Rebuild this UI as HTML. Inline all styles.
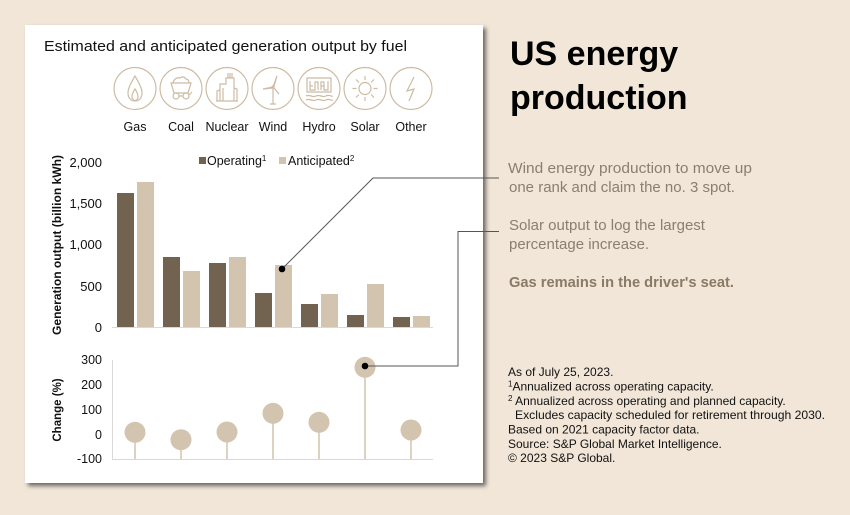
<!DOCTYPE html>
<html><head><meta charset="utf-8"><style>
html,body{margin:0;padding:0;background:#f1e6d8;}
svg{display:block;}
text{font-family:"Liberation Sans",sans-serif;}
</style></head><body>
<svg width="850" height="515" viewBox="0 0 850 515" xmlns="http://www.w3.org/2000/svg">
<defs>
<filter id="sh" x="-10%" y="-10%" width="130%" height="130%">
<feDropShadow dx="3" dy="3" stdDeviation="2.2" flood-color="#000" flood-opacity="0.55"/>
</filter>
</defs>
<rect width="850" height="515" fill="#f1e6d8"/>
<rect x="25" y="25" width="458" height="458" fill="#fff" filter="url(#sh)"/>

<text x="44" y="51" font-size="14.5" fill="#111" textLength="363" lengthAdjust="spacingAndGlyphs">Estimated and anticipated generation output by fuel</text>

<!-- icons -->
<g fill="none" stroke="#cdbba4" stroke-width="1.2">
<circle cx="135" cy="88.5" r="21"/><circle cx="181" cy="88.5" r="21"/><circle cx="227" cy="88.5" r="21"/><circle cx="273" cy="88.5" r="21"/><circle cx="319" cy="88.5" r="21"/><circle cx="365" cy="88.5" r="21"/><circle cx="411" cy="88.5" r="21"/>
<!-- gas flame -->
<path d="M135 76 C131 83 128 88 128 93 C128 98 131 101 135 101 C139 101 142 98 142 93 C142 88 139 83 135 76 Z"/>
<path d="M135 89 C133 92 132 95 132 97 C132 99 133.5 100.5 135 100.5 C136.5 100.5 138 99 138 97 C138 95 137 92 135 89 Z"/>
<!-- coal cart -->
<path d="M171 83 L191 83 L188 93 L174 93 Z"/>
<path d="M173 83 C174 79 177 77 180 78 C182 76 185 77 186 79 C188 79 189 81 189 83"/>
<circle cx="176" cy="96" r="3"/><circle cx="186" cy="96" r="3"/>
<path d="M179 96 L183 96 M189 95 L192 92"/>
<!-- nuclear -->
<path d="M220 101 L220 84 L226 84 L226 78 L234 78 L234 101 M216 101 L238 101 M220 90 L217 91 L217 101 M234 88 L237 89 L237 101 M223 88 L223 101"/>
<path d="M228 73 L228 78 M230 73 L230 78 M232 73 L232 78"/>
<!-- wind -->
<path d="M273 87 L273 104 M270 104 L276 104"/>
<path d="M273 87 L277 76 L274 86 Z M273 87 L263 89 L272 88 Z M273 87 L279 94 L274 88 Z"/>
<circle cx="273" cy="87" r="1"/>
<!-- hydro -->
<path d="M307 78 L331 78 L331 92 L307 92 Z M310 81 L310 90 L315 90 L315 82 L318 82 L318 90 M321 90 L321 82 L324 82 L324 90 L328 90 L328 81 M310 86 L313 86 M321 86 L324 86"/>
<path d="M306 96 C310 94 312 98 316 96 C320 94 322 98 326 96 C329 94 331 97 333 96"/>
<path d="M306 100 C310 98 312 102 316 100 C320 98 322 102 326 100 C329 98 331 101 333 100"/>
<!-- solar -->
<circle cx="365" cy="88.5" r="6"/>
<path d="M365 76 L365 80 M365 97 L365 101 M352.5 88.5 L356.5 88.5 M373.5 88.5 L377.5 88.5 M356 79.5 L359 82.5 M371 94.5 L374 97.5 M374 79.5 L371 82.5 M359 94.5 L356 97.5"/>
<!-- other -->
<path d="M414 77 L407 91 L414 89 L409 101"/>
</g>
<g font-size="12.5" fill="#111" text-anchor="middle">
<text x="135" y="131">Gas</text><text x="181" y="131">Coal</text><text x="227" y="131">Nuclear</text><text x="273" y="131">Wind</text><text x="319" y="131">Hydro</text><text x="365" y="131">Solar</text><text x="411" y="131">Other</text>
</g>

<!-- bar chart -->
<g font-size="13" fill="#111" text-anchor="end">
<text x="102" y="167">2,000</text><text x="102" y="208">1,500</text><text x="102" y="249">1,000</text><text x="102" y="291">500</text><text x="102" y="332">0</text>
</g>
<text transform="translate(61,245) rotate(-90)" font-size="11.5" font-weight="bold" fill="#111" text-anchor="middle" textLength="180" lengthAdjust="spacingAndGlyphs">Generation output (billion kWh)</text>
<!-- legend -->
<rect x="199" y="157" width="7" height="7" fill="#726350"/>
<text x="207" y="165" font-size="12.5" fill="#111">Operating<tspan font-size="8" dy="-4">1</tspan></text>
<rect x="279" y="157" width="7" height="7" fill="#d3c4af"/>
<text x="288" y="165" font-size="12.5" fill="#111">Anticipated<tspan font-size="8" dy="-4">2</tspan></text>

<g fill="#726350">
<rect x="117" y="193" width="17" height="134"/>
<rect x="163" y="257" width="17" height="70"/>
<rect x="209" y="263" width="17" height="64"/>
<rect x="255" y="293" width="17" height="34"/>
<rect x="301" y="304" width="17" height="23"/>
<rect x="347" y="315" width="17" height="12"/>
<rect x="393" y="317" width="17" height="10"/>
</g>
<g fill="#d3c4af">
<rect x="137" y="182" width="17" height="145"/>
<rect x="183" y="271" width="17" height="56"/>
<rect x="229" y="257" width="17" height="70"/>
<rect x="275" y="265" width="17" height="62"/>
<rect x="321" y="294" width="17" height="33"/>
<rect x="367" y="284" width="17" height="43"/>
<rect x="413" y="316" width="17" height="11"/>
</g>
<line x1="112" y1="327.5" x2="433" y2="327.5" stroke="#d9d9d9" stroke-width="1"/>

<!-- lollipop chart -->
<g font-size="12.5" fill="#111" text-anchor="end">
<text x="102" y="364">300</text><text x="102" y="389">200</text><text x="102" y="414">100</text><text x="102" y="439">0</text><text x="102" y="463">-100</text>
</g>
<text transform="translate(61,410) rotate(-90)" font-size="11.5" font-weight="bold" fill="#111" text-anchor="middle">Change (%)</text>
<line x1="112.5" y1="360" x2="112.5" y2="459" stroke="#d9d9d9" stroke-width="1"/>
<line x1="112" y1="459.5" x2="433" y2="459.5" stroke="#d9d9d9" stroke-width="1"/>
<g stroke="#d3c4af" stroke-width="1.5">
<line x1="135" y1="432" x2="135" y2="459"/>
<line x1="181" y1="440" x2="181" y2="459"/>
<line x1="227" y1="432" x2="227" y2="459"/>
<line x1="273" y1="413" x2="273" y2="459"/>
<line x1="319" y1="422" x2="319" y2="459"/>
<line x1="365" y1="367" x2="365" y2="459"/>
<line x1="411" y1="430" x2="411" y2="459"/>
</g>
<g fill="#d3c4af">
<circle cx="135" cy="432.3" r="10.5"/>
<circle cx="181" cy="439.7" r="10.5"/>
<circle cx="227" cy="432" r="10.5"/>
<circle cx="273" cy="413.3" r="10.5"/>
<circle cx="319" cy="422.3" r="10.5"/>
<circle cx="365" cy="367.3" r="10.5"/>
<circle cx="411" cy="430" r="10.5"/>
</g>

<!-- callouts -->
<g fill="none" stroke="#555" stroke-width="1">
<polyline points="282,269 373,178 499,178"/>
<polyline points="365,366 458,366 458,231.5 499,231.5"/>
</g>
<circle cx="282" cy="269" r="3.3" fill="#000"/>
<circle cx="365" cy="366" r="3.3" fill="#000"/>

<!-- right side -->
<text x="510" y="65" font-size="34" font-weight="bold" fill="#000">US energy</text>
<text x="510" y="109" font-size="34" font-weight="bold" fill="#000">production</text>

<g font-size="15" fill="#8a7e70">
<text x="508" y="173" textLength="244" lengthAdjust="spacingAndGlyphs">Wind energy production to move up</text>
<text x="509" y="192">one rank and claim the no. 3 spot.</text>
<text x="509" y="230">Solar output to log the largest</text>
<text x="509" y="249">percentage increase.</text>
<text x="509" y="287" font-weight="bold" fill="#8a7a66" textLength="225" lengthAdjust="spacingAndGlyphs">Gas remains in the driver's seat.</text>
</g>

<g font-size="12" fill="#111">
<text x="508" y="376">As of July 25, 2023.</text>
<text x="508" y="390.5"><tspan font-size="8" dy="-4">1</tspan><tspan dy="4">Annualized across operating capacity.</tspan></text>
<text x="508" y="405"><tspan font-size="8" dy="-4">2</tspan><tspan dy="4"> Annualized across operating and planned capacity.</tspan></text>
<text x="515" y="419" textLength="310" lengthAdjust="spacingAndGlyphs">Excludes capacity scheduled for retirement through 2030.</text>
<text x="508" y="433.5">Based on 2021 capacity factor data.</text>
<text x="508" y="448">Source: S&amp;P Global Market Intelligence.</text>
<text x="508" y="462">© 2023 S&amp;P Global.</text>
</g>
</svg>
</body></html>
